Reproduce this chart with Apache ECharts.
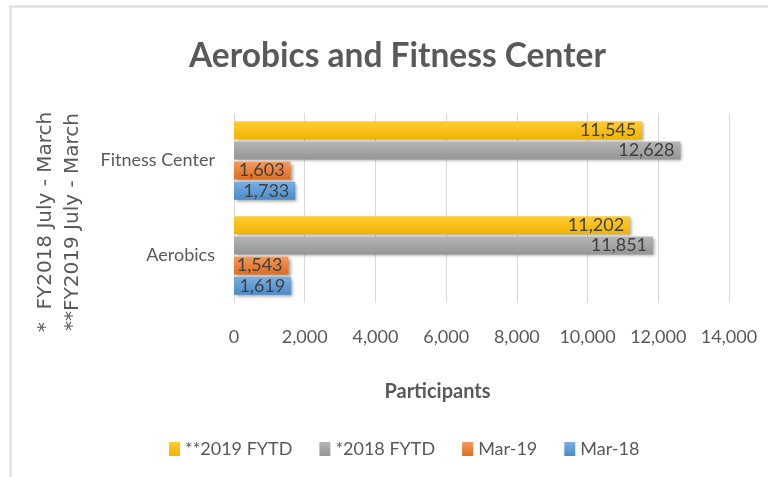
<!DOCTYPE html>
<html>
<head>
<meta charset="utf-8">
<script src="https://cdn.jsdelivr.net/npm/echarts@6/dist/echarts.min.js"></script>
<style>
  html, body { margin: 0; padding: 0; background: #fff; }
  #chart { width: 768px; height: 477px; }
</style>
</head>
<body>
<div id="chart"></div>
<script>
  // categories, bottom to top as Excel draws them
  const categories = ['Aerobics', 'Fitness Center'];
  const mar18 = [1619, 1733];
  const mar19 = [1543, 1603];
  const fytd2018 = [11851, 12628];
  const fytd2019 = [11202, 11545];
  const xTicks = [0, 2000, 4000, 6000, 8000, 10000, 12000, 14000];

  const font = 'Lato';
  const textColor = '#595959';

  function grad(top, bottom) {
    return new echarts.graphic.LinearGradient(0, 0, 0, 1, [
      { offset: 0, color: top },
      { offset: 1, color: bottom }
    ]);
  }

  function barSeries(name, data, c1, c2) {
    return {
      name: name,
      type: 'bar',
      data: data,
      barWidth: 18,
      barGap: '12%',
      itemStyle: {
        color: grad(c1, c2),
        shadowColor: 'rgba(0,0,0,0.35)',
        shadowBlur: 3,
        shadowOffsetX: 2,
        shadowOffsetY: 2
      },
      label: {
        show: true,
        position: 'insideRight',
        distance: 6,
        color: '#404040',
        fontFamily: font,
        fontSize: 18,
        formatter: p => p.value.toLocaleString('en-US')
      }
    };
  }

  const chart = echarts.init(document.getElementById('chart'));
  chart.setOption({
    animation: false,
    title: {
      text: 'Aerobics and Fitness Center',
      left: 184,
      top: 34,
      textStyle: { fontFamily: font, fontWeight: 'bold', fontSize: 33.5, color: textColor }
    },
    legend: {
      bottom: 14,
      left: 164,
      itemWidth: 11,
      itemHeight: 14,
      itemGap: 27,
      icon: 'rect',
      data: ['**2019 FYTD', '*2018 FYTD', 'Mar-19', 'Mar-18'],
      textStyle: { fontFamily: font, fontSize: 18, color: textColor }
    },
    grid: { left: 234, right: 39, top: 113, bottom: 174, containLabel: false },
    xAxis: {
      type: 'value',
      min: 0,
      max: 14000,
      interval: 2000,
      name: 'Participants',
      nameLocation: 'middle',
      nameGap: 79,
      nameTextStyle: { fontFamily: font, fontWeight: 'bold', fontSize: 20, color: textColor, padding: [0, 88, 0, 0] },
      axisLine: { show: false },
      axisTick: { show: false },
      axisLabel: {
        fontFamily: font, fontSize: 18, color: textColor, margin: 25,
        formatter: v => xTicks.includes(v) ? v.toLocaleString('en-US') : ''
      },
      splitLine: { lineStyle: { color: '#d9d9d9', width: 1 } }
    },
    yAxis: {
      type: 'category',
      data: categories,
      axisLine: { show: false },
      axisTick: { show: false },
      axisLabel: { fontFamily: font, fontSize: 18, color: textColor, margin: 19 }
    },
    graphic: [
      {
        type: 'rect',
        shape: { x: 10.5, y: 6.5, width: 800, height: 500 },
        style: { fill: 'none', stroke: '#d9d9d9', lineWidth: 2 },
        silent: true
      },
      {
        type: 'text',
        x: 46, y: 222, rotation: Math.PI / 2,
        style: {
          text: '*  FY2018 July - March', align: 'center', verticalAlign: 'middle',
          fontFamily: 'DejaVu Sans', fontSize: 20, fill: textColor
        }
      },
      {
        type: 'text',
        x: 73, y: 222, rotation: Math.PI / 2,
        style: {
          text: '**FY2019 July - March', align: 'center', verticalAlign: 'middle',
          fontFamily: 'DejaVu Sans', fontSize: 20, fill: textColor
        }
      }
    ],
    // ECharts stacks the first series at the top of each horizontal band
    series: [
      barSeries('**2019 FYTD', fytd2019, '#ffcc33', '#f0b400'),
      barSeries('*2018 FYTD', fytd2018, '#b5b5b5', '#959595'),
      barSeries('Mar-19', mar19, '#f29a5c', '#e06c1e'),
      barSeries('Mar-18', mar18, '#7aaee0', '#4a8bc8')
    ]
  });
  window.addEventListener('resize', () => chart.resize());
</script>
</body>
</html>
